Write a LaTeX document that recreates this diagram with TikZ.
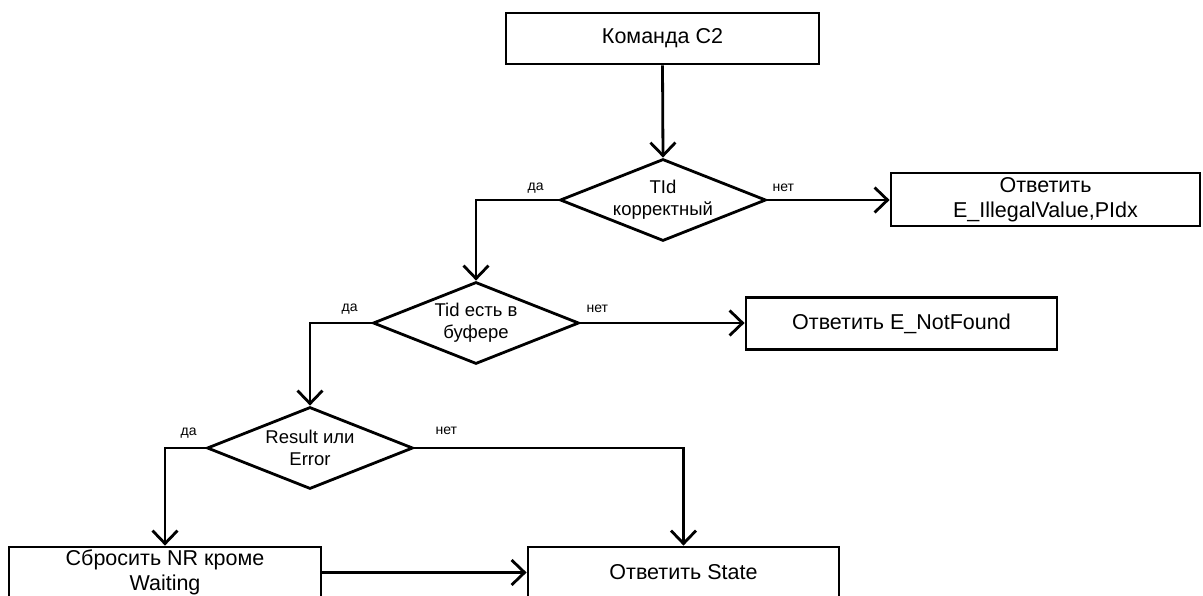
\documentclass[tikz,border=0pt]{standalone}
\usepackage{fontspec}
\setmainfont{Liberation Sans}
\usetikzlibrary{arrows.meta,shapes.geometric}
\begin{document}
\begin{tikzpicture}[x=1pt,y=-1pt,
  procbox/.style={draw, line width=2.8pt, rectangle, inner sep=0pt, align=center,
    minimum height=51pt, font=\fontsize{21.5}{25.5}\selectfont},
  decision/.style={draw, line width=2.8pt, diamond, aspect=2.5, inner xsep=-20pt, inner ysep=-5pt,
    minimum width=206pt, minimum height=82pt, align=center, font=\fontsize{18.5}{22}\selectfont},
  lbl/.style={inner sep=0pt, font=\fontsize{14}{16}\selectfont},
  conn/.style={line width=2.8pt, -{Straight Barb[length=13pt,width=25pt]}}
]
\clip (0,0) rectangle (1203,596);

\node[procbox, minimum width=313pt] (cmd) at (662.5,38.5) {Команда С2};
\node[decision] (d1) at (663,200) {TId\\корректный};
\node[procbox, minimum width=309pt, minimum height=53pt] (b1) at (1045.5,199.5) {Ответить\\E\_IllegalValue,PIdx};
\node[decision] (d2) at (476,323) {Tid есть в\\буфере};
\node[procbox, minimum width=311pt, minimum height=52pt] (b2) at (901.5,323.5) {Ответить E\_NotFound};
\node[decision] (d3) at (310,448) {Result или\\Error};
\node[procbox, minimum width=312pt] (b3) at (165,572.5) {Сбросить NR кроме\\Waiting};
\node[procbox, minimum width=311pt] (st) at (683.5,572.5) {Ответить State};

\node[lbl] (y1) at ([shift={(-23,-12)}]d1.west) {да};
\node[lbl] (n1) at ([shift={(16,-12)}]d1.east) {нет};
\node[lbl] (y2) at ([shift={(-22,-14)}]d2.west) {да};
\node[lbl] (n2) at ([shift={(17,-14)}]d2.east) {нет};
\node[lbl] (y3) at ([shift={(-17,-15)}]d3.west) {да};
\node[lbl] (n3) at ([shift={(32,-17)}]d3.east) {нет};

\draw[conn] (cmd.south) -- (d1.north);
\draw[conn] (d1.east) -- (d1.east -| b1.west);
\draw[conn] (d1.west) -| (d2.north);
\draw[conn] (d2.east) -- (d2.east -| b2.west);
\draw[conn] (d2.west) -| (d3.north);
\draw[conn] (d3.west) -| (b3.north);
\draw[conn] (d3.east) -| (st.north);
\draw[conn] (b3.east) -- (b3.east -| st.west);
\end{tikzpicture}
\end{document}
